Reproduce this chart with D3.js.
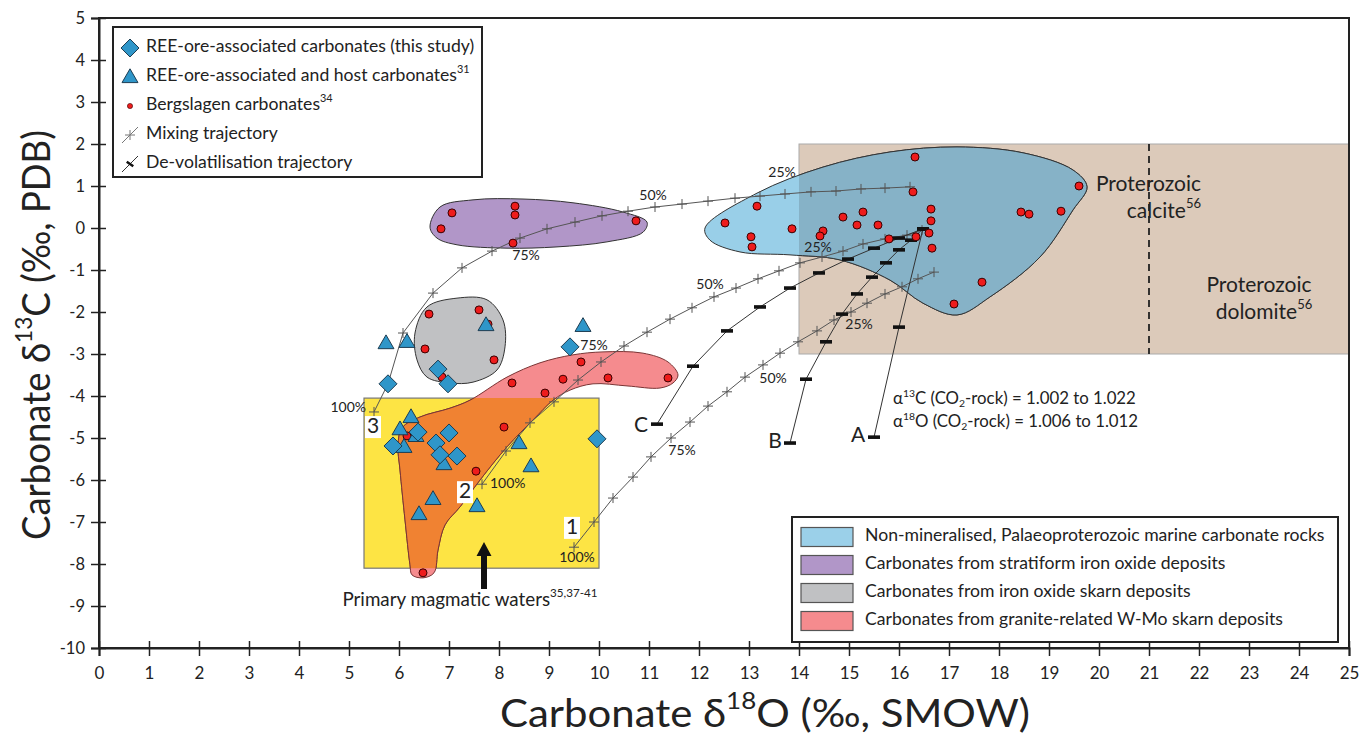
<!DOCTYPE html>
<html><head><meta charset="utf-8">
<script src="https://cdn.jsdelivr.net/npm/d3@7"></script>
<style>body{margin:0;background:#fff}svg{display:block}text{font-family:Lato,"Open Sans",sans-serif;fill:#222}</style>
</head><body><svg id="c" width="1359" height="737"></svg>
<script>
// ---------- DATA ----------
const xTickVals = d3.range(0, 26);
const yTickVals = d3.range(-10, 6);

const beigeBox = {x0: 14, x1: 25, y0: -3, y1: 2};
const dolomiteDivider = 21;
const yellowBox = {x0: 5.3, x1: 10, y0: -8.1, y1: -4.05};

const regionBlue = [[12.12,0],[13.16,0.83],[14.48,1.45],[15.82,1.81],[17.16,1.93],[18.48,1.79],[19.48,1.38],[19.76,0.98],[19.48,0.43],[18.82,-0.69],[17.82,-1.64],[17.16,-2.07],[16.48,-1.79],[15.82,-1.24],[14.82,-0.76],[13.82,-0.64],[12.82,-0.57],[12.22,-0.29]];
const regionPurple = [[6.62,0.02],[6.82,0.5],[7.48,0.67],[8.48,0.69],[9.48,0.6],[10.48,0.38],[10.96,0.14],[10.88,-0.1],[10.16,-0.33],[9.16,-0.45],[8.16,-0.48],[7.16,-0.4],[6.76,-0.24]];
const regionGray = [[6.32,-2.5],[6.56,-1.88],[7.16,-1.67],[7.76,-1.71],[8.08,-2.19],[8.12,-2.83],[7.96,-3.38],[7.48,-3.67],[7.02,-3.69],[6.56,-3.55],[6.36,-3.14]];
const regionPink = [[6.26,-8.26],[6.48,-8.33],[6.7,-8.21],[6.78,-7.67],[6.92,-7.07],[7.22,-6.64],[7.62,-6.0],[8.16,-5.21],[8.68,-4.57],[9.08,-4.1],[9.42,-3.86],[9.88,-3.71],[10.56,-3.76],[11.22,-3.81],[11.48,-3.69],[11.58,-3.5],[11.38,-3.19],[10.88,-2.98],[10.08,-2.95],[9.48,-3.02],[8.82,-3.21],[8.16,-3.55],[7.42,-4.1],[7.02,-4.29],[6.42,-4.5],[6.06,-4.76],[5.98,-5.17],[6.02,-5.76],[6.12,-6.95],[6.22,-8.02]];

const bergslagen = [[7.06,0.36],[8.32,0.52],[8.32,0.31],[6.84,-0.02],[10.74,0.17],[8.28,-0.36],
 [6.6,-2.05],[7.6,-1.95],[7.78,-2.29],[6.52,-2.88],[7.9,-3.14],[6.86,-3.55],
 [9.64,-3.19],[8.26,-3.69],[9.28,-3.6],[10.18,-3.57],[11.38,-3.57],[8.92,-3.93],
 [8.1,-4.74],[6.16,-4.95],[7.54,-5.79],[6.48,-8.21],
 [16.32,1.69],[16.28,0.86],[13.16,0.52],[12.52,0.12],[13.04,-0.21],[13.06,-0.45],[13.86,-0.02],[14.48,-0.07],[14.42,-0.19],[14.88,0.26],[15.28,0.38],[15.16,0.07],[15.58,0.07],[15.8,-0.26],[16.34,-0.21],[16.64,0.45],[16.64,0.17],[16.6,-0.12],[16.66,-0.48],[18.44,0.38],[18.6,0.33],[19.24,0.4],[19.6,1.0],[17.66,-1.29],[17.1,-1.81]];

const thisStudy = [[5.78,-3.71],[6.78,-3.36],[6.98,-3.71],[9.42,-2.83],[9.96,-5.02],[6.38,-4.86],[5.88,-5.19],[6.74,-5.12],[7.0,-4.88],[6.82,-5.4],[7.16,-5.43]];
const hostCarb = [[5.74,-2.74],[6.16,-2.71],[7.74,-2.31],[9.68,-2.33],[6.24,-4.5],[6.02,-4.79],[6.1,-5.21],[6.34,-4.95],[6.9,-5.62],[8.4,-5.12],[8.64,-5.67],[6.68,-6.45],[6.4,-6.81],[7.56,-6.62]];

const mix1 = [[9.5,-7.6],[9.9,-7.0],[10.28,-6.43],[10.68,-5.93],[11.04,-5.45],[11.44,-5.0],[11.82,-4.62],[12.18,-4.24],[12.56,-3.9],[12.92,-3.55],[13.28,-3.26],[13.62,-2.98],[13.98,-2.71],[14.36,-2.45],[14.7,-2.19],[15.04,-2.0],[15.36,-1.79],[15.72,-1.57],[16.06,-1.4],[16.38,-1.21],[16.7,-1.05]];
const mix2 = [[7.66,-6.1],[8.14,-5.31],[8.62,-4.64],[9.1,-4.14],[9.58,-3.62],[10.04,-3.19],[10.5,-2.81],[10.96,-2.48],[11.42,-2.17],[11.86,-1.9],[12.3,-1.64],[12.74,-1.43],[13.18,-1.21],[13.6,-1.02],[14.02,-0.83],[14.46,-0.69],[14.88,-0.55],[15.28,-0.38],[15.72,-0.26],[16.16,-0.17],[16.46,-0.05]];
const mix3 = [[5.5,-4.38],[5.78,-3.71],[6.08,-2.5],[6.68,-1.55],[7.26,-0.95],[7.86,-0.55],[8.42,-0.24],[8.96,-0.02],[9.52,0.14],[10.06,0.29],[10.58,0.4],[11.12,0.5],[11.66,0.57],[12.18,0.64],[12.72,0.71],[13.22,0.76],[13.72,0.81],[14.24,0.86],[14.74,0.88],[15.24,0.93],[15.72,0.95],[16.22,0.98]];

const devA = [[15.5,-4.98],[16.0,-2.36],[16.48,-0.02]];
const devB = [[13.82,-5.12],[14.14,-3.6],[14.54,-2.71],[14.86,-2.05],[15.16,-1.57],[15.46,-1.17],[15.74,-0.83],[16.0,-0.52],[16.24,-0.29],[16.48,-0.02]];
const devC = [[11.16,-4.67],[11.88,-3.29],[12.56,-2.45],[13.22,-1.88],[13.82,-1.43],[14.4,-1.07],[14.98,-0.74],[15.5,-0.48],[16.0,-0.24],[16.48,-0.02]];

const pctLabels = [[5.34,-4.29,"100%","end"],[8.54,-0.67,"75%","middle"],[11.08,0.76,"50%","middle"],[13.66,1.31,"25%","middle"],
 [7.82,-6.1,"100%","start"],[9.9,-2.83,"75%","middle"],[12.22,-1.36,"50%","middle"],[14.38,-0.48,"25%","middle"],
 [9.56,-7.86,"100%","middle"],[11.66,-5.33,"75%","middle"],[13.48,-3.6,"50%","middle"],[15.2,-2.33,"25%","middle"]];
const devLabels = [[10.84,-4.74,"C"],[13.52,-5.12,"B"],[15.18,-4.98,"A"]];
const numLabels = [[5.48,-4.74,"3"],[7.32,-6.29,"2"],[9.46,-7.14,"1"]];

const legend1 = [
 {kind:"diamond", segs:[["REE-ore-associated carbonates (this study)"]]},
 {kind:"triangle", segs:[["REE-ore-associated and host carbonates"],["31","sup"]]},
 {kind:"dot", segs:[["Bergslagen carbonates"],["34","sup"]]},
 {kind:"mix", segs:[["Mixing trajectory"]]},
 {kind:"devol", segs:[["De-volatilisation trajectory"]]}];
const legend2 = [
 {color:"#9bd0e9", label:"Non-mineralised, Palaeoproterozoic marine carbonate rocks"},
 {color:"#b196c8", label:"Carbonates from stratiform iron oxide deposits"},
 {color:"#c0c1c3", label:"Carbonates from iron oxide skarn deposits"},
 {color:"#f58b8e", label:"Carbonates from granite-related W-Mo skarn deposits"}];

// ---------- SETUP ----------
const svg = d3.select("#c");
const x = d3.scaleLinear().domain([0,25]).range([99,1349]);
const y = d3.scaleLinear().domain([-10,5]).range([648,18]);
const P = d => [x(d[0]), y(d[1])];

function rich(g, px, py, segs, size, anchor) {
  const t = g.append("text").attr("x", px).attr("y", py).attr("font-size", size)
    .attr("text-anchor", anchor || "start").attr("dominant-baseline","middle");
  let shift = 0;
  segs.forEach(s => {
    const ts = t.append("tspan").text(s[0]);
    let target = 0;
    if (s[1] === "sup") { ts.attr("font-size", size*0.62); target = -size*0.38; }
    else if (s[1] === "sub") { ts.attr("font-size", size*0.62); target = size*0.25; }
    if (target !== shift) { ts.attr("dy", target - shift); shift = target; }
  });
  return t;
}

const defs = svg.append("defs");
defs.append("clipPath").attr("id","clipY").append("rect")
  .attr("x", x(yellowBox.x0)).attr("y", y(yellowBox.y1))
  .attr("width", x(yellowBox.x1)-x(yellowBox.x0)).attr("height", y(yellowBox.y0)-y(yellowBox.y1));
defs.append("clipPath").attr("id","clipB").append("rect")
  .attr("x", x(beigeBox.x0)).attr("y", y(beigeBox.y1))
  .attr("width", x(beigeBox.x1)-x(beigeBox.x0)).attr("height", y(beigeBox.y0)-y(beigeBox.y1));

// beige box
svg.append("rect").attr("x", x(beigeBox.x0)).attr("y", y(beigeBox.y1))
  .attr("width", x(beigeBox.x1)-x(beigeBox.x0)).attr("height", y(beigeBox.y0)-y(beigeBox.y1))
  .attr("fill","#dccaba").attr("stroke","#aaa").attr("stroke-width",1);
svg.append("line").attr("x1", x(dolomiteDivider)).attr("x2", x(dolomiteDivider))
  .attr("y1", y(beigeBox.y1)).attr("y2", y(beigeBox.y0))
  .attr("stroke","#222").attr("stroke-width",1.8).attr("stroke-dasharray","7,5");

// yellow box
svg.append("rect").attr("x", x(yellowBox.x0)).attr("y", y(yellowBox.y1))
  .attr("width", x(yellowBox.x1)-x(yellowBox.x0)).attr("height", y(yellowBox.y0)-y(yellowBox.y1))
  .attr("fill","#fde444").attr("stroke","#777").attr("stroke-width",1.2);

const area = d3.line().x(d=>x(d[0])).y(d=>y(d[1])).curve(d3.curveCatmullRomClosed.alpha(0.5));

svg.append("path").attr("d", area(regionPurple)).attr("fill","#b196c8").attr("stroke","#333").attr("stroke-width",1);
svg.append("path").attr("d", area(regionGray)).attr("fill","#c0c1c3").attr("stroke","#333").attr("stroke-width",1);
svg.append("path").attr("d", area(regionPink)).attr("fill","#f58b8e").attr("stroke","#7a3535").attr("stroke-width",1);
svg.append("path").attr("d", area(regionPink)).attr("fill","#f08232").attr("stroke","#7a3535").attr("stroke-width",1).attr("clip-path","url(#clipY)");
svg.append("path").attr("d", area(regionBlue)).attr("fill","#99cfe8").attr("stroke","#333").attr("stroke-width",1);
svg.append("path").attr("d", area(regionBlue)).attr("fill","#86b2c7").attr("stroke","#333").attr("stroke-width",1).attr("clip-path","url(#clipB)");

// ---------- AXES ----------
svg.append("rect").attr("x",99).attr("y",18).attr("width",1250).attr("height",630)
  .attr("fill","none").attr("stroke","#222").attr("stroke-width",2);
const gx = svg.append("g").attr("transform",`translate(0,${y(-10)})`)
  .call(d3.axisBottom(x).tickValues(xTickVals).tickSize(8).tickFormat(d => String(d)));
gx.select(".domain").attr("stroke","#222").attr("stroke-width",2);
gx.selectAll(".tick line").attr("y1",-7).attr("stroke","#222").attr("stroke-width",1.5);
gx.selectAll(".tick text").attr("font-size",17).attr("font-family","Lato,sans-serif").attr("fill","#222").attr("dy","1.2em");
const gy = svg.append("g").attr("transform",`translate(${x(0)},0)`)
  .call(d3.axisLeft(y).tickValues(yTickVals).tickSize(8).tickFormat(d => String(d)));
gy.select(".domain").attr("stroke","#222").attr("stroke-width",2);
gy.selectAll(".tick line").attr("x1",-8).attr("x2",7).attr("stroke","#222").attr("stroke-width",1.5);
gy.selectAll(".tick text").attr("font-size",16.5).attr("font-family","'DejaVu Sans',sans-serif").attr("fill","#222").attr("x",-14);

// axis titles
rich(svg, 765, 717, [["Carbonate δ"],["18","sup"],["O (‰, SMOW)"]], 38, "middle")
  .attr("textLength", 530).attr("lengthAdjust","spacingAndGlyphs");
rich(svg, 0, 0, [["Carbonate δ"],["13","sup"],["C (‰, PDB)"]], 38, "middle")
  .attr("textLength", 410).attr("lengthAdjust","spacingAndGlyphs")
  .attr("transform","translate(40,335) rotate(-90)");

// ---------- TRAJECTORIES ----------
const pline = d3.line().x(d=>x(d[0])).y(d=>y(d[1]));
const mixG = svg.append("g");
[mix1, mix2, mix3].forEach(m => {
  mixG.append("path").attr("d", pline(m)).attr("fill","none").attr("stroke","#555").attr("stroke-width",1);
  m.forEach(d => {
    const [px,py] = P(d);
    mixG.append("path").attr("d",`M${px-5},${py}H${px+5}M${px},${py-5}V${py+5}`).attr("stroke","#555").attr("stroke-width",1);
  });
});
const devG = svg.append("g");
[devA, devB, devC].forEach(m => {
  devG.append("path").attr("d", pline(m)).attr("fill","none").attr("stroke","#333").attr("stroke-width",1);
  m.forEach(d => {
    const [px,py] = P(d);
    devG.append("rect").attr("x",px-6).attr("y",py-1.8).attr("width",12).attr("height",3.6).attr("fill","#111");
  });
});

// labels
pctLabels.forEach(d => {
  svg.append("text").attr("x", x(d[0])).attr("y", y(d[1])).attr("text-anchor", d[3])
    .attr("dominant-baseline","middle").attr("font-size",14).text(d[2]);
});
devLabels.forEach(d => {
  svg.append("text").attr("x", x(d[0])).attr("y", y(d[1])).attr("text-anchor","middle")
    .attr("dominant-baseline","middle").attr("font-size",21).text(d[2]);
});
numLabels.forEach(d => {
  const [px,py] = P(d);
  svg.append("rect").attr("x",px-8).attr("y",py-11).attr("width",16).attr("height",22).attr("fill","#fff");
  svg.append("text").attr("x",px).attr("y",py+1).attr("text-anchor","middle")
    .attr("dominant-baseline","middle").attr("font-size",21).text(d[2]);
});

// annotations
rich(svg, 1201, 186, [["Proterozoic"]], 21, "end");
rich(svg, 1201, 213, [["calcite"],["56","sup"]], 21, "end");
rich(svg, 1259, 287, [["Proterozoic"]], 21, "middle");
rich(svg, 1264, 314, [["dolomite"],["56","sup"]], 21, "middle");
rich(svg, 893, 400, [["α"],["13","sup"],["C (CO"],["2","sub"],["-rock) = 1.002 to 1.022"]], 16.8, "start");
rich(svg, 893, 423, [["α"],["18","sup"],["O (CO"],["2","sub"],["-rock) = 1.006 to 1.012"]], 16.8, "start");
rich(svg, 470, 601, [["Primary magmatic waters"],["35,37-41","sup"]], 18.8, "middle");
// arrow
svg.append("path").attr("d","M481,589V556H476.5L484,542L491.5,556H487V589Z").attr("fill","#111");

// ---------- POINTS ----------
svg.append("g").selectAll("circle").data(bergslagen).join("circle")
  .attr("cx", d=>x(d[0])).attr("cy", d=>y(d[1])).attr("r",4)
  .attr("fill","#ee1c1c").attr("stroke","#3a0000").attr("stroke-width",1);
const tri = d3.symbol().type(d3.symbolTriangle).size(110);
svg.append("g").selectAll("path").data(hostCarb).join("path")
  .attr("d", tri).attr("transform", d=>`translate(${x(d[0])},${y(d[1])+1})`)
  .attr("fill","#2f96c9").attr("stroke","#1d3d52").attr("stroke-width",1);
const dia = d => `M${x(d[0])},${y(d[1])-9}L${x(d[0])+9},${y(d[1])}L${x(d[0])},${y(d[1])+9}L${x(d[0])-9},${y(d[1])}Z`;
svg.append("g").selectAll("path").data(thisStudy).join("path")
  .attr("d", dia).attr("fill","#2f96c9").attr("stroke","#1d3d52").attr("stroke-width",1);

// ---------- LEGENDS ----------
const L1 = svg.append("g");
L1.append("rect").attr("x",113).attr("y",27).attr("width",369).attr("height",150)
  .attr("fill","#fff").attr("stroke","#222").attr("stroke-width",2);
legend1.forEach((e,i) => {
  const cy = 48 + i*29, cx = 130;
  if (e.kind==="diamond") L1.append("path").attr("d",`M${cx},${cy-9}L${cx+9},${cy}L${cx},${cy+9}L${cx-9},${cy}Z`).attr("fill","#2f96c9").attr("stroke","#1d3d52");
  if (e.kind==="triangle") L1.append("path").attr("d", tri).attr("transform",`translate(${cx},${cy+1})`).attr("fill","#2f96c9").attr("stroke","#1d3d52");
  if (e.kind==="dot") L1.append("circle").attr("cx",cx).attr("cy",cy).attr("r",2.6).attr("fill","#ee1c1c").attr("stroke","#3a0000").attr("stroke-width",0.6);
  if (e.kind==="mix") L1.append("path").attr("d",`M${cx-8},${cy+8}L${cx+8},${cy-8}M${cx-5},${cy}H${cx+5}M${cx},${cy-5}V${cy+5}`).attr("stroke","#777").attr("stroke-width",1);
  if (e.kind==="devol") { L1.append("path").attr("d",`M${cx-8},${cy+8}L${cx+8},${cy-8}`).attr("stroke","#333").attr("stroke-width",1);
    L1.append("path").attr("d",`M${cx-4},${cy}H${cx+4}`).attr("stroke","#111").attr("stroke-width",2.5).attr("transform",`rotate(35,${cx},${cy})`); }
  rich(L1, 146, cy, e.segs, 17.6, "start");
});
const L2 = svg.append("g");
L2.append("rect").attr("x",792).attr("y",517).attr("width",546).attr("height",125)
  .attr("fill","#fff").attr("stroke","#222").attr("stroke-width",2);
legend2.forEach((e,i) => {
  const cy = 537 + i*28;
  L2.append("rect").attr("x",801).attr("y",cy-9.5).attr("width",52).attr("height",19)
    .attr("fill",e.color).attr("stroke","#555").attr("stroke-width",1.2);
  rich(L2, 865, cy, [[e.label]], 17.6, "start");
});
</script></body></html>
